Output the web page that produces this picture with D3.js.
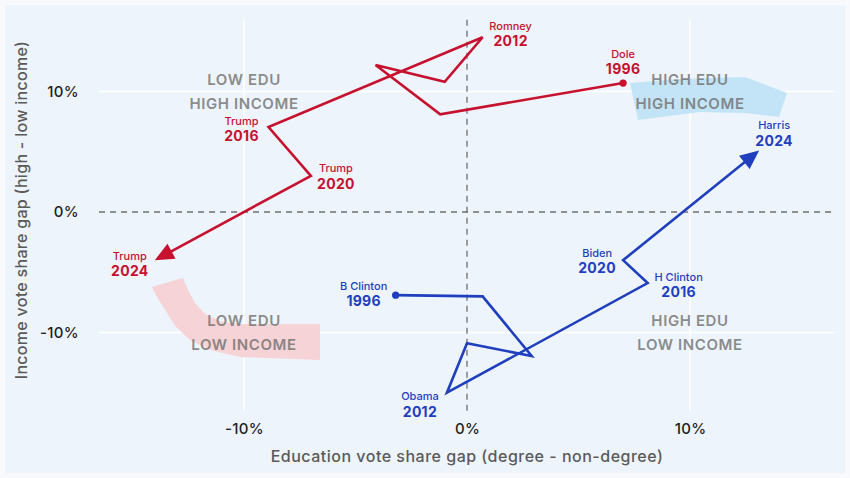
<!DOCTYPE html>
<html>
<head>
<meta charset="utf-8">
<script src="https://cdn.jsdelivr.net/npm/d3@7"></script>
<style>
  html, body { margin: 0; padding: 0; background: #eef4fb; }
  svg { display: block; font-family: Inter, "Noto Sans", sans-serif; }
</style>
</head>
<body>
<svg id="chart" width="850" height="478"></svg>
<script>
// ---- data (percentage points) ----
const repYears = [1996, 2000, 2004, 2008, 2012, 2016, 2020, 2024];
const repEdu    = [7.0, -1.2, -4.1, -1.0, 0.7, -8.9, -7.0, -14.0];
const repIncome = [10.7, 8.1, 12.2, 10.8, 14.5, 7.05, 3.0, -4.0];
const repNames  = ["Dole", "Bush", "Bush", "McCain", "Romney", "Trump", "Trump", "Trump"];

const demYears = [1996, 2000, 2004, 2008, 2012, 2016, 2020, 2024];
const demEdu    = [-3.2, 0.7, 2.9, 0.0, -0.9, 8.1, 7.0, 13.1];
const demIncome = [-6.9, -7.0, -11.95, -10.9, -15.0, -5.9, -4.0, 5.1];
const demNames  = ["B Clinton", "Gore", "Kerry", "Obama", "Obama", "H Clinton", "Biden", "Harris"];

const xTicks = [-10, 0, 10];
const yTicks = [-10, 0, 10];
const tickLabel = v => v + "%";

const quadrants = [
  { x: -10, y: 10, l1: "LOW EDU", l2: "HIGH INCOME" },
  { x: 10, y: 10, l1: "HIGH EDU", l2: "HIGH INCOME" },
  { x: -10, y: -10, l1: "LOW EDU", l2: "LOW INCOME" },
  { x: 10, y: -10, l1: "HIGH EDU", l2: "LOW INCOME" }
];

// highlight brush strokes (data units)
const blueBlobX = [7.31, 9.55, 12.47, 14.35, 13.99, 12.47, 10.45, 7.67];
const blueBlobY = [10.71, 11.04, 11.2, 9.88, 7.88, 8.22, 8.3, 7.63];
const pinkBlobX = [-14.13, -12.74, -12.51, -12.20, -11.75, -10.99, -10.18, -6.59, -6.59, -10.18, -11.52, -12.42, -13.09, -13.54, -13.90];
const pinkBlobY = [-6.22, -5.48, -6.47, -7.55, -8.46, -9.13, -9.29, -9.29, -12.28, -12.03, -11.45, -10.62, -9.46, -8.13, -7.05];

// labelled points: index, label offsets (styling)
const repLabels = [
  { i: 0, dx: 0, dy: -9 },
  { i: 4, dx: 28, dy: 9 },
  { i: 5, dx: -27, dy: 14 },
  { i: 6, dx: 25, dy: 13 },
  { i: 7, dx: -25, dy: 16 }
];
const demLabels = [
  { i: 0, dx: -32, dy: 11 },
  { i: 4, dx: -27, dy: 24 },
  { i: 5, dx: 31, dy: 14 },
  { i: 6, dx: -26, dy: 13 },
  { i: 7, dx: 15, dy: -5 }
];

// ---- layout ----
const RED = "#c6112f", BLUE = "#1f3fbf";
const svg = d3.select("#chart");
const W = 850, H = 478;

const x = d3.scaleLinear().domain([-16.5, 16.5]).range([99.05, 834.95]);
const y = d3.scaleLinear().domain([-16.5, 16]).range([410.8, 19.2]);

svg.append("rect").attr("x", 2).attr("y", 2).attr("width", W - 4).attr("height", H - 4)
  .attr("fill", "#eef4fb").attr("stroke", "#f7f9fd").attr("stroke-width", 6);

// white gridlines
svg.append("g").selectAll("line").data(xTicks.filter(d => d !== 0)).join("line")
  .attr("x1", d => x(d)).attr("x2", d => x(d))
  .attr("y1", y.range()[0]).attr("y2", y.range()[1])
  .attr("stroke", "#ffffff").attr("stroke-width", 1.5);
svg.append("g").selectAll("line").data(yTicks.filter(d => d !== 0)).join("line")
  .attr("y1", d => y(d)).attr("y2", d => y(d))
  .attr("x1", x.range()[0]).attr("x2", x.range()[1])
  .attr("stroke", "#ffffff").attr("stroke-width", 1.5);

// blobs
const blobLine = d3.line().x(d => x(d[0])).y(d => y(d[1])).curve(d3.curveLinearClosed);
svg.append("path").attr("d", blobLine(blueBlobX.map((v, i) => [v, blueBlobY[i]])))
  .attr("fill", "#c3e4f6");
svg.append("path").attr("d", blobLine(pinkBlobX.map((v, i) => [v, pinkBlobY[i]])))
  .attr("fill", "#f6d3d6");

// zero dashed lines
svg.append("line").attr("x1", x(0)).attr("x2", x(0)).attr("y1", y.range()[0]).attr("y2", y.range()[1])
  .attr("stroke", "#6f6f6f").attr("stroke-width", 1.3).attr("stroke-dasharray", "6,5");
svg.append("line").attr("y1", y(0)).attr("y2", y(0)).attr("x1", x.range()[0]).attr("x2", x.range()[1])
  .attr("stroke", "#6f6f6f").attr("stroke-width", 1.3).attr("stroke-dasharray", "6,5");

// quadrant labels
const q = svg.append("g").attr("text-anchor", "middle").attr("font-size", 15).attr("font-weight", 600)
  .attr("fill", "#6e6e6e").attr("fill-opacity", 0.8).style("letter-spacing", "0.6px");
quadrants.forEach(d => {
  q.append("text").attr("x", x(d.x)).attr("y", y(d.y) - 6).text(d.l1);
  q.append("text").attr("x", x(d.x)).attr("y", y(d.y) + 18).text(d.l2);
});

// axes
const xAxis = svg.append("g").attr("transform", `translate(0,${y.range()[0]})`)
  .call(d3.axisBottom(x).tickValues(xTicks).tickFormat(tickLabel).tickSize(0).tickPadding(13));
const yAxis = svg.append("g").attr("transform", `translate(${x.range()[0]},0)`)
  .call(d3.axisLeft(y).tickValues(yTicks).tickFormat(tickLabel).tickSize(0).tickPadding(20));
[xAxis, yAxis].forEach(a => {
  a.select(".domain").remove();
  a.selectAll("text").attr("font-size", 15).attr("font-family", "Inter, sans-serif")
    .attr("font-weight", 500).attr("fill", "#1e1e1e").style("letter-spacing", "0.3px");
});

svg.append("text").attr("x", x(0)).attr("y", 462).attr("text-anchor", "middle")
  .attr("font-size", 16).attr("font-weight", 500).attr("fill", "#5a5a5a").style("letter-spacing", "0.5px")
  .text("Education vote share gap (degree - non-degree)");
svg.append("text").attr("transform", `translate(27,${(y.range()[0] + y.range()[1]) / 2 - 5}) rotate(-90)`)
  .attr("text-anchor", "middle").attr("font-size", 16).attr("font-weight", 500).attr("fill", "#5a5a5a")
  .style("letter-spacing", "0.3px")
  .text("Income vote share gap (high - low income)");

// trajectories
const traj = d3.line().x(d => x(d[0])).y(d => y(d[1]));
function series(edu, inc, color) {
  const pts = edu.map((v, i) => [v, inc[i]]);
  const n = pts.length;
  const px = pts.map(p => [x(p[0]), y(p[1])]);
  const [ax, ay] = px[n - 2], [bx, by] = px[n - 1];
  const len = Math.hypot(bx - ax, by - ay);
  const k = (len - 14) / len;
  const endPt = [x.invert(ax + (bx - ax) * k), y.invert(ay + (by - ay) * k)];
  const linePts = pts.slice(0, n - 1).concat([endPt]);
  svg.append("path").attr("d", traj(linePts)).attr("fill", "none")
    .attr("stroke", color).attr("stroke-width", 2.6).attr("stroke-linejoin", "miter");
  const ang = Math.atan2(by - ay, bx - ax) * 180 / Math.PI;
  svg.append("path").attr("d", "M0,0 L-19,-8.5 L-19,8.5 Z")
    .attr("transform", `translate(${bx},${by}) rotate(${ang})`).attr("fill", color);
  svg.append("circle").attr("cx", x(pts[0][0])).attr("cy", y(pts[0][1])).attr("r", 3.6).attr("fill", color);
}
series(repEdu, repIncome, RED);
series(demEdu, demIncome, BLUE);

// point labels
function labels(list, edu, inc, names, years, color) {
  const g = svg.append("g").attr("text-anchor", "middle").attr("fill", color);
  list.forEach(d => {
    const px = x(edu[d.i]), py = y(inc[d.i]);
    g.append("text").attr("x", px + d.dx).attr("y", py + d.dy - 16.5)
      .attr("font-size", 11).attr("font-weight", 500).text(names[d.i]);
    g.append("text").attr("x", px + d.dx).attr("y", py + d.dy)
      .attr("font-size", 14).attr("font-weight", 700).style("letter-spacing", "0.3px").text(years[d.i]);
  });
}
labels(repLabels, repEdu, repIncome, repNames, repYears, RED);
labels(demLabels, demEdu, demIncome, demNames, demYears, BLUE);
</script>
</body>
</html>
